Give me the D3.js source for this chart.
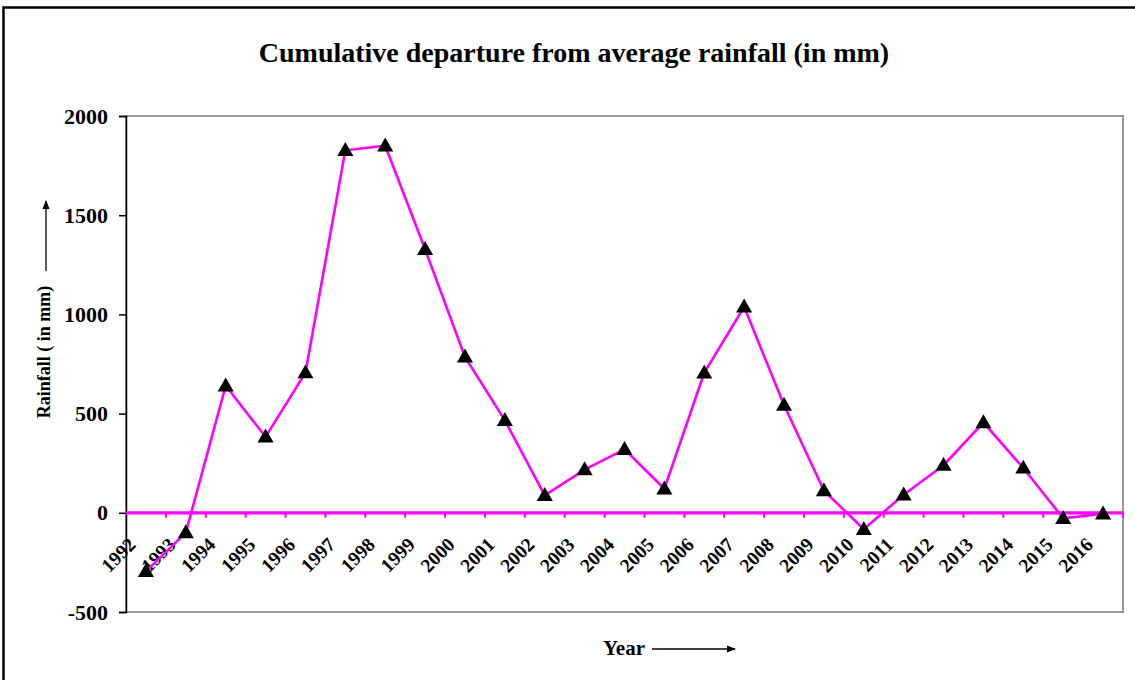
<!DOCTYPE html>
<html>
<head>
<meta charset="utf-8">
<script src="https://cdn.jsdelivr.net/npm/d3@7"></script>
<style>
  body { margin: 0; background: #fff; }
  svg { display: block; font-family: "Liberation Serif", "Times New Roman", serif; font-weight: bold; }
</style>
</head>
<body>
<script>
var years = [1992, 1993, 1994, 1995, 1996, 1997, 1998, 1999, 2000, 2001, 2002, 2003,
             2004, 2005, 2006, 2007, 2008, 2009, 2010, 2011, 2012, 2013, 2014, 2015, 2016];
var departure = [-295, -100, 640, 383, 706, 1827, 1850, 1328, 786, 466, 88, 218,
                 320, 121, 705, 1038, 543, 112, -83, 91, 240, 455, 226, -28, -5];
var yTicks = [-500, 0, 500, 1000, 1500, 2000];

var W = 1135, H = 680,
    m = { t: 116, r: 12, b: 68, l: 126 };

var svg = d3.select("body").append("svg")
    .attr("width", W)
    .attr("height", H);

// outer chart frame (cropped at right/bottom)
svg.append("rect")
    .attr("x", 3.5).attr("y", 7.5)
    .attr("width", W + 20).attr("height", H + 20)
    .attr("fill", "none")
    .attr("stroke", "#000")
    .attr("stroke-width", 2.5);

var x = d3.scaleBand()
      .domain(years)
      .range([m.l, W - m.r]),
    y = d3.scaleLinear()
      .domain([-500, 2000])
      .range([H - m.b, m.t]);

// plot area border
svg.append("rect")
    .attr("x", m.l).attr("y", m.t)
    .attr("width", W - m.r - m.l).attr("height", (H - m.b) - m.t)
    .attr("fill", "none")
    .attr("stroke", "#999")
    .attr("stroke-width", 2);

// title
svg.append("text")
    .attr("x", 574).attr("y", 62)
    .attr("text-anchor", "middle")
    .style("font-size", "28px")
    .text("Cumulative departure from average rainfall (in mm)");

// y axis
var axisY = d3.axisLeft(y)
    .tickValues(yTicks)
    .tickFormat(function(d) { return String(d); })
    .tickSize(7)
    .tickPadding(11);
var gy = svg.append("g")
    .attr("transform", "translate(" + m.l + ",0)")
    .call(axisY);
gy.select(".domain").attr("stroke", "#000").attr("stroke-width", 1.5);
gy.selectAll(".tick line").attr("stroke", "#000").attr("stroke-width", 1.5);
gy.selectAll("text")
    .style("font-family", "Liberation Serif, serif")
    .style("font-weight", "bold")
    .style("font-size", "22px")
    .attr("fill", "#000");

// category axis along zero (magenta)
var zeroY = y(0);
svg.append("line")
    .attr("x1", m.l).attr("x2", W - m.r)
    .attr("y1", zeroY).attr("y2", zeroY)
    .attr("stroke", "#ff00ff")
    .attr("stroke-width", 3.2);
var bounds = years.map(function(d) { return x(d); }).concat([W - m.r]);
svg.selectAll(".xtick")
    .data(bounds.slice(1))
  .enter().append("line")
    .attr("class", "xtick")
    .attr("x1", function(d) { return d; })
    .attr("x2", function(d) { return d; })
    .attr("y1", zeroY)
    .attr("y2", zeroY + 5)
    .attr("stroke", "#ff00ff")
    .attr("stroke-width", 2);

svg.selectAll(".xlab")
    .data(years)
  .enter().append("text")
    .attr("class", "xlab")
    .attr("text-anchor", "end")
    .attr("transform", function(d) {
      return "translate(" + (x(d) + x.bandwidth() / 2 - 9) + "," + (zeroY + 33) + ") rotate(-45)";
    })
    .style("font-size", "19.5px")
    .text(function(d) { return d; });

// data line
var pts = years.map(function(d, i) { return { year: d, v: departure[i] }; });
var line = d3.line()
    .x(function(d) { return x(d.year) + x.bandwidth() / 2; })
    .y(function(d) { return y(d.v); });
svg.append("path")
    .datum(pts)
    .attr("d", line)
    .attr("fill", "none")
    .attr("stroke", "#ff00ff")
    .attr("stroke-width", 2.6);

svg.selectAll(".mark")
    .data(pts)
  .enter().append("path")
    .attr("class", "mark")
    .attr("d", d3.symbol().type(d3.symbolTriangle).size(112))
    .attr("transform", function(d) {
      return "translate(" + (x(d.year) + x.bandwidth() / 2) + "," + (y(d.v) + 1) + ")";
    })
    .attr("fill", "#000");

// arrow head
var defs = svg.append("defs");
defs.append("marker")
    .attr("id", "arr")
    .attr("viewBox", "0 0 10 10")
    .attr("refX", 9).attr("refY", 5)
    .attr("markerWidth", 9).attr("markerHeight", 9)
    .attr("markerUnits", "userSpaceOnUse")
    .attr("orient", "auto")
  .append("path")
    .attr("d", "M0,1L10,5L0,9Z")
    .attr("fill", "#000");

// x axis title
svg.append("text")
    .attr("x", 603).attr("y", 655)
    .style("font-size", "21px")
    .text("Year");
svg.append("line")
    .attr("x1", 652).attr("x2", 735)
    .attr("y1", 649).attr("y2", 649)
    .attr("stroke", "#000").attr("stroke-width", 1.3)
    .attr("marker-end", "url(#arr)");

// y axis title
svg.append("text")
    .attr("transform", "translate(50,352) rotate(-90)")
    .attr("text-anchor", "middle")
    .style("font-size", "18px")
    .text("Rainfall ( in mm)");
svg.append("line")
    .attr("x1", 46).attr("x2", 46)
    .attr("y1", 271).attr("y2", 201)
    .attr("stroke", "#000").attr("stroke-width", 1.3)
    .attr("marker-end", "url(#arr)");
</script>
</body>
</html>
